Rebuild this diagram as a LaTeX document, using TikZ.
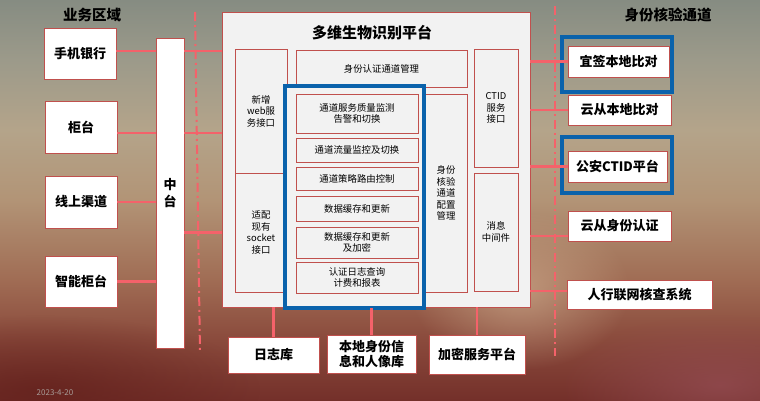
\documentclass[tikz,border=0pt]{standalone}
\usepackage{fontspec}
\setmainfont{Noto Sans CJK SC}
\usetikzlibrary{positioning,fadings}
\definecolor{linkred}{HTML}{F4626A}
\definecolor{boxred}{HTML}{C0504D}
\definecolor{panel}{HTML}{F2F2F2}
\definecolor{frameblue}{HTML}{0A62AB}
\definecolor{bgA}{HTML}{868C82}
\definecolor{bgB}{HTML}{9C9A8A}
\definecolor{bgC}{HTML}{B4A48A}
\definecolor{bgD}{HTML}{B29476}
\definecolor{bgE}{HTML}{A06C54}
\definecolor{bgF}{HTML}{8A4A3C}
\definecolor{bgG}{HTML}{74302A}
\pgfdeclareverticalshading{bgshade}{100bp}{color(0bp)=(bgG); color(25bp)=(bgG); color(32.5bp)=(bgF); color(40bp)=(bgE); color(50bp)=(bgD); color(58.75bp)=(bgC); color(67.5bp)=(bgB); color(75bp)=(bgA); color(100bp)=(bgA)}
\tikzfading[name=softspot, inner color=transparent!0, outer color=transparent!100]

\begin{document}
\begin{tikzpicture}[x=1pt, y=-1pt,
    every node/.style={inner sep=0pt, outer sep=0pt, align=center},
    title/.style={font=\bfseries\fontsize{14.5}{16}\selectfont},
    outbox/.style={draw=boxred, line width=0.7pt, fill=white, font=\bfseries\fontsize{13}{15}\selectfont},
    inbox/.style={draw=boxred, line width=0.7pt, fill=panel, font=\fontsize{9.4}{11.5}\selectfont},
    chanframe/.style={draw=frameblue, line width=3.2pt},
    link/.style={draw=linkred, line width=2.5pt},
    sep/.style={draw=linkred, line width=2pt, dash pattern=on 9pt off 4pt on 2pt off 4pt}]
  \useasboundingbox (0,0) rectangle (760,400);
  \clip (0,0) rectangle (760,400);
  % background
  \shade[shading=bgshade] (0,0) rectangle (760,400);
  \fill[color={rgb,255:red,204;green,170;blue,140}, path fading=softspot, opacity=0.7] (520,290) ellipse [x radius=110, y radius=80];
  \fill[color={rgb,255:red,96;green,30;blue,26}, path fading=softspot, opacity=0.7] (40,390) ellipse [x radius=220, y radius=75];
  \fill[color={rgb,255:red,150;green,78;blue,86}, path fading=softspot, opacity=0.7] (720,385) ellipse [x radius=160, y radius=70];
  \node[font=\fontsize{8}{9}\selectfont, text={rgb,255:red,168;green,156;blue,152}] (date) at (55,393) {2023-4-20};

  % separators
  \draw[sep] (195,12) -- (200,353);
  \draw[sep] (555,6) -- (555,356);

  % business area
  \node[title] (ywqy) at (92,15) {业务区域};
  \node[outbox, minimum width=72, minimum height=51] (sjyh) at (80,53.5) {手机银行};
  \node[outbox, minimum width=72, minimum height=52] (gt) at (81,127) {柜台};
  \node[outbox, minimum width=72, minimum height=52] (xsqd) at (81,202) {线上渠道};
  \node[outbox, minimum width=72, minimum height=51] (zngt) at (81,281.5) {智能柜台};
  \node[outbox, minimum width=28, minimum height=310, font=\bfseries\fontsize{13}{17}\selectfont] (zt) at (170,193) {中\\台};

  % platform
  \node[draw=boxred, line width=0.6pt, fill=panel, minimum width=308, minimum height=295] (pf) at (376,159.5) {};
  \node[font=\bfseries\fontsize{15}{17}\selectfont] (pftitle) at (372,33) {多维生物识别平台};
  \node[inbox, minimum width=52, minimum height=124] (web) at (261,111) {新增\\web服\\务接口};
  \node[inbox, minimum width=52, minimum height=119] (socket) at (261,232.5) {适配\\现有\\socket\\接口};
  \node[inbox, minimum width=171, minimum height=37] (tdgl) at (381.5,68.5) {身份认证通道管理};
  \node[inbox, minimum width=42, minimum height=198] (pzgl) at (446,193) {身份\\核验\\通道\\配置\\管理};
  \node[inbox, minimum width=44, minimum height=118] (ctid) at (496,108) {CTID\\服务\\接口};
  \node[inbox, minimum width=44, minimum height=118] (xxzj) at (496,232) {消息\\中间件};
  \node[chanframe, fill=panel, minimum width=139, minimum height=222] (core) at (354.5,197) {};
  \node[inbox, minimum width=122, minimum height=39] (zljc) at (357,113.5) {通道服务质量监测\\告警和切换};
  \node[inbox, minimum width=122, minimum height=24] (llqh) at (357,150) {通道流量监控及切换};
  \node[inbox, minimum width=122, minimum height=23] (lykz) at (357,178.5) {通道策略路由控制};
  \node[inbox, minimum width=122, minimum height=25] (hcgx) at (357,208.5) {数据缓存和更新};
  \node[inbox, minimum width=122, minimum height=31] (hcjm) at (357,242.5) {数据缓存和更新\\及加密};
  \node[inbox, minimum width=122, minimum height=31] (rzcx) at (357,277.5) {认证日志查询\\计费和报表};

  % storage
  \node[outbox, minimum width=91, minimum height=36] (rzk) at (273.5,355) {日志库};
  \node[outbox, minimum width=89, minimum height=38] (rxk) at (371.5,354) {本地身份信\\息和人像库};
  \node[outbox, minimum width=96, minimum height=39] (jmpt) at (477,354.5) {加密服务平台};

  % channels
  \node[title] (sfhy) at (668,15) {身份核验通道};
  \node[outbox, minimum width=101, minimum height=31] (yq) at (618.5,61.5) {宜签本地比对};
  \node[chanframe, minimum width=110, minimum height=55] (yqframe) at (617,64.5) {};
  \node[outbox, minimum width=103, minimum height=30] (ycbd) at (619.5,110) {云从本地比对};
  \node[outbox, minimum width=99, minimum height=31] (ga) at (617.5,166.5) {公安CTID平台};
  \node[chanframe, minimum width=110, minimum height=56] (gaframe) at (617,165) {};
  \node[outbox, minimum width=103, minimum height=30] (ycsf) at (619.5,226) {云从身份认证};
  \node[outbox, minimum width=145, minimum height=29] (rhlw) at (639.5,294.5) {人行联网核查系统};

  % links
  \draw[link] ([yshift=2.5pt]sjyh.east) -- ([yshift=2.5pt]sjyh.east -| zt.west);
  \draw[link] ([yshift=-6pt]gt.east) -- ([yshift=-6pt]gt.east -| zt.west);
  \draw[link] (xsqd.east) -- (xsqd.east -| zt.west);
  \draw[link] (zngt.east) -- (zngt.east -| zt.west);
  \draw[link] ([yshift=2.5pt]sjyh.east -| zt.east) -- ([yshift=2.5pt]sjyh.east -| pf.west);
  \draw[link] ([yshift=-6pt]gt.east -| zt.east) -- ([yshift=-6pt]gt.east -| pf.west);
  \draw[link] (socket.west -| zt.east) -- (socket.west -| pf.west);
  \draw[link] (yq.west -| pf.east) -- (yq.west);
  \draw[link] (ycbd.west -| pf.east) -- (ycbd.west);
  \draw[link] (ga.west -| pf.east) -- (ga.west);
  \draw[link] ([yshift=-10pt]ycsf.west -| pf.east) -- ([yshift=-10pt]ycsf.west);
  \draw[link] ([yshift=3.5pt]rhlw.west -| pf.east) -- ([yshift=3.5pt]rhlw.west);
  \draw[link] (rzk.north |- pf.south) -- (rzk.north);
  \draw[link] (rxk.north |- core.south) -- (rxk.north);
  \draw[link] (jmpt.north |- pf.south) -- (jmpt.north);
\end{tikzpicture}
\end{document}
